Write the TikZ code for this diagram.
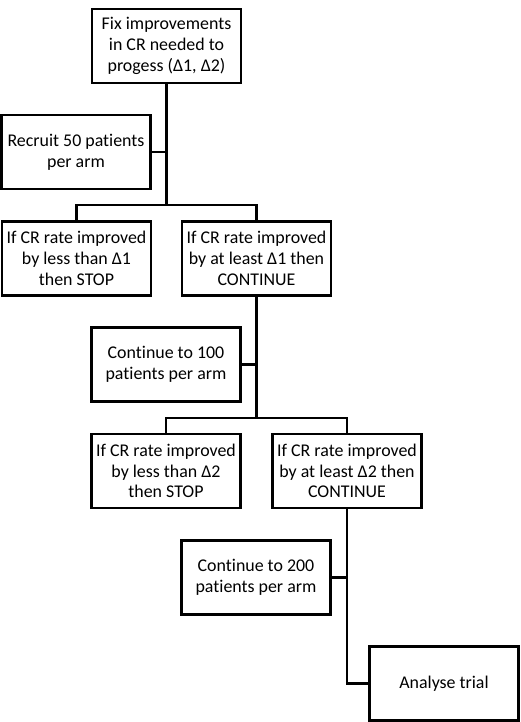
\documentclass[tikz,border=0pt]{standalone}
\usepackage{fontspec}
\setmainfont{Carlito}[Ligatures=NoCommon]
\begin{document}
\begin{tikzpicture}[x=1pt,y=-1pt,
  box/.style={draw, line width=2.4pt, minimum width=149pt, minimum height=74pt, align=center, inner sep=1pt,
    font=\fontsize{17.9}{20.8}\selectfont},
  link/.style={line width=2.4pt}]
\useasboundingbox (0,0) rectangle (520,722);
\node[box] (top) at (166.5,46) {Fix improvements\\in CR needed to\\progess (Δ1, Δ2)};
\node[box] (recruit) at (76,152) {Recruit 50 patients\\per arm};
\node[box] (less1) at (76.5,258.5) {If CR rate improved\\by less than Δ1\\then STOP};
\node[box] (least1) at (256.5,258.5) {If CR rate improved\\by at least Δ1 then\\CONTINUE};
\node[box] (cont100) at (166,364.5) {Continue to 100\\patients per arm};
\node[box] (less2) at (166,471) {If CR rate improved\\by less than Δ2\\then STOP};
\node[box] (least2) at (347,471) {If CR rate improved\\by at least Δ2 then\\CONTINUE};
\node[box] (cont200) at (256,577.5) {Continue to 200\\patients per arm};
\node[box] (analyse) at (444,683.5) {Analyse trial};
\coordinate (j1) at (166.5,205);
\coordinate (j2) at (256.5,418);
\coordinate (j3) at (347,683.5);
\draw[link] (top.south) -- (j1);
\draw[link] (recruit.east) -- (recruit.east -| top.south);
\draw[link] (less1.north) |- (j1) -| (least1.north);
\draw[link] (least1.south) -- (j2);
\draw[link] (cont100.east) -- (cont100.east -| least1.south);
\draw[link] (less2.north) |- (j2) -| (least2.north);
\draw[link] (least2.south) -- (j3) -- (analyse.west);
\draw[link] (cont200.east) -- (cont200.east -| least2.south);
\end{tikzpicture}
\end{document}
